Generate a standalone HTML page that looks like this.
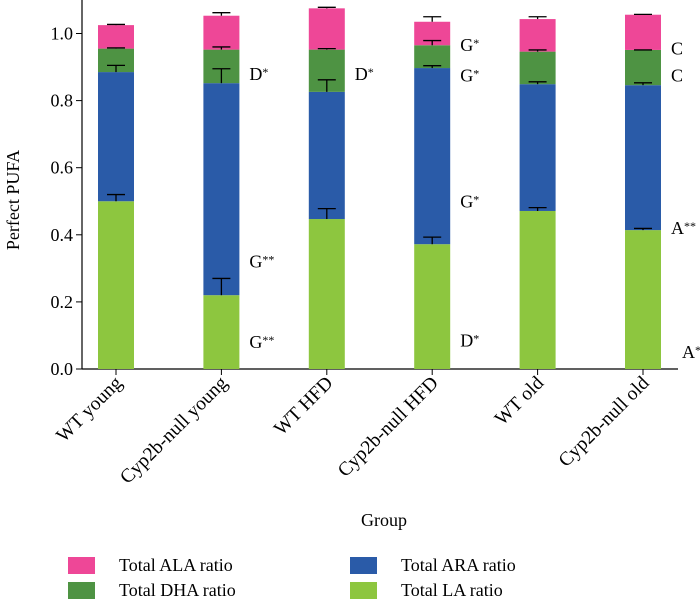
<!DOCTYPE html>
<html><head><meta charset="utf-8"><style>
body{margin:0;background:#fff}
svg{display:block;font-family:"Liberation Serif",serif}
</style></head><body>
<svg id="chart" width="700" height="600"></svg>
<script>
const categories=["WT young","Cyp2b-null young","WT HFD","Cyp2b-null HFD","WT old","Cyp2b-null old"];
const laValues=[0.50,0.22,0.447,0.372,0.471,0.414];
const araValues=[0.385,0.632,0.379,0.525,0.378,0.432];
const dhaValues=[0.07,0.10,0.126,0.068,0.097,0.105];
const alaValues=[0.07,0.101,0.123,0.070,0.097,0.105];
const laErr=[0.02,0.05,0.031,0.021,0.010,0.005];
const araErr=[0.02,0.043,0.036,0.007,0.007,0.007];
const dhaErr=[0.002,0.008,0.003,0.014,0.005,0.0];
const alaErr=[0.002,0.009,0.003,0.015,0.007,0.001];
const yTicks=[0.0,0.2,0.4,0.6,0.8,1.0];
const annotations=[[1,0.88,"D","*"],[1,0.32,"G","**"],[1,0.08,"G","**"],[2,0.88,"D","*"],[3,0.965,"G","*"],[3,0.875,"G","*"],[3,0.50,"G","*"],[3,0.085,"D","*"],[5,0.955,"C",""],[5,0.875,"C",""],[5,0.42,"A","**"],[5,0.05,"A","*"]];
const annDx=[0,0,0,0,0,0,0,0,0,0,0,11];
const series=[["la",laValues,laErr,"#8dc63f"],["ara",araValues,araErr,"#2a5ba8"],["dha",dhaValues,dhaErr,"#4e9343"],["ala",alaValues,alaErr,"#ee4797"]];
const svg=document.getElementById('chart');
const NS='http://www.w3.org/2000/svg';
const y0=369,scale=335.5,x0=116,step=105.4,bw=36;
const Y=v=>y0-v*scale, X=i=>x0+i*step;
function mk(t,a,p){const e=document.createElementNS(NS,t);for(const k in a)e.setAttribute(k,a[k]);(p||svg).appendChild(e);return e;}
let ax=mk('line',{x1:82,y1:0,x2:82,y2:y0,stroke:'#000','stroke-width':1.2});


let bx=mk('line',{x1:82,y1:y0,x2:678,y2:y0,stroke:'#000','stroke-width':1.2});


yTicks.forEach(v=>{
 const l=mk('line',{x1:76,y1:Y(v),x2:82,y2:Y(v),stroke:'#000'});
 
 
 const t=mk('text',{x:73,y:Y(v)+6,'text-anchor':'end','font-size':18});
 t.textContent=v.toFixed(1);
 
 
});
const yt=mk('text',{x:0,y:0,'font-size':18,'text-anchor':'middle',transform:'translate(19,200) rotate(-90)'});
yt.textContent='Perfect PUFA';


categories.forEach((c,i)=>{
 let cum=0;
 const tops=[];
 series.forEach(s=>{
  const v=s[1][i];
  const r=mk('rect',{x:X(i)-bw/2,y:Y(cum+v),width:bw,height:v*scale,fill:s[3]});
  
  
  cum+=v;tops.push([cum,s[2][i]]);
 });
 tops.forEach(([t,e])=>{
  const g=mk('g',{stroke:'#000','stroke-width':1.3});
  
  
  mk('line',{x1:X(i),y1:Y(t),x2:X(i),y2:Y(t+e)},g);
  mk('line',{x1:X(i)-9,y1:Y(t+e),x2:X(i)+9,y2:Y(t+e)},g);
 });
 const tk=mk('line',{x1:X(i),y1:y0,x2:X(i),y2:y0+6,stroke:'#000'});
 
 
 const tl=mk('text',{x:0,y:0,'font-size':19.5,'text-anchor':'end',transform:`translate(${X(i)+7},${y0+15}) rotate(-45)`});
 tl.textContent=c;
 
 
});
annotations.forEach((a,k)=>{
 const t=mk('text',{x:X(a[0])+bw/2+10+annDx[k],y:Y(a[1])+6,'font-size':18});
 t.textContent=a[2];
 const sp=mk('tspan',{'font-size':12,dy:-4},t);
 sp.textContent=a[3];
 
 
});
const gt=mk('text',{x:384,y:526,'font-size':18,'text-anchor':'middle'});
gt.textContent='Group';


const leg=[["Total ALA ratio","#ee4797",68,565],["Total ARA ratio","#2a5ba8",350,565],["Total DHA ratio","#4e9343",68,590],["Total LA ratio","#8dc63f",350,590]];
leg.forEach(l=>{
 const g=mk('g',{});
 
 
 mk('rect',{x:l[2],y:l[3]-8,width:27,height:17,fill:l[1]},g);
 const t=mk('text',{x:l[2]+51,y:l[3]+6,'font-size':18},g);
 t.textContent=l[0];
});
</script>
</body></html>
